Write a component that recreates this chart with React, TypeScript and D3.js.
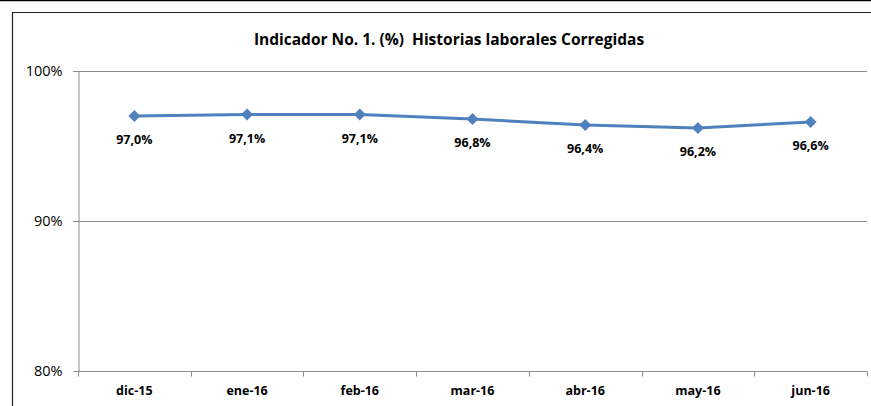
import { useEffect, useRef } from "react";
import * as d3 from "d3";

const months = ["dic-15", "ene-16", "feb-16", "mar-16", "abr-16", "may-16", "jun-16"];
const values = [97.0, 97.1, 97.1, 96.8, 96.4, 96.2, 96.6];
const yTicks = [80, 90, 100];

export default function App() {
  const ref = useRef<SVGSVGElement>(null);

  useEffect(() => {
    const width = 871,
      height = 406,
      margin = { top: 71, right: 4, bottom: 35, left: 78 };

    const svg = d3.select(ref.current);
    svg.selectAll("*").remove();
    svg.attr("width", width).attr("height", height);

    const font = "Open Sans, Liberation Sans, sans-serif";

    // outer frame
    svg.append("line")
      .attr("x1", 0).attr("x2", width).attr("y1", 0.5).attr("y2", 0.5)
      .attr("stroke", "#000").attr("stroke-width", 1.5);
    svg.append("path")
      .attr("d", `M12.5,${height} V12.5 H${width}`)
      .attr("fill", "none").attr("stroke", "#222").attr("stroke-width", 1.2);

    // title
    svg.append("text")
      .attr("x", 449).attr("y", 45)
      .attr("text-anchor", "middle")
      .style("font-family", font)
      .style("font-size", "15.5px")
      .style("font-weight", "bold")
      .style("white-space", "pre")
      .style("fill", "#000")
      .text("Indicador No. 1. (%)  Historias laborales Corregidas");

    const x = d3.scaleBand()
      .domain(months)
      .range([margin.left, width - margin.right]);
    const y = d3.scaleLinear()
      .domain([80, 100])
      .range([height - margin.bottom, margin.top]);

    // gridlines
    svg.append("g")
      .selectAll("line")
      .data(yTicks.slice(1))
      .enter()
      .append("line")
      .attr("x1", margin.left - 5)
      .attr("x2", width - margin.right)
      .attr("y1", (d) => Math.round(y(d)) + 0.5)
      .attr("y2", (d) => Math.round(y(d)) + 0.5)
      .attr("stroke", "#8c8c8c");

    // y axis
    const yAxis = svg.append("g")
      .attr("transform", `translate(${margin.left + 0.5},0)`)
      .call(d3.axisLeft(y).tickValues(yTicks).tickSize(5).tickPadding(11).tickFormat((d) => `${d}%`));
    yAxis.select(".domain").attr("stroke", "#8c8c8c");
    yAxis.selectAll(".tick line").attr("stroke", "#8c8c8c");
    yAxis.selectAll("text")
      .style("font-family", font)
      .style("font-size", "14.5px")
      .style("fill", "#000");

    // x axis
    const y0 = Math.round(y(80)) + 0.5;
    const xa = svg.append("g");
    xa.append("line")
      .attr("x1", margin.left).attr("x2", width - margin.right)
      .attr("y1", y0).attr("y2", y0)
      .attr("stroke", "#8c8c8c");
    xa.selectAll("line.tk")
      .data([...months.map((m) => x(m)!), width - margin.right])
      .enter()
      .append("line")
      .attr("class", "tk")
      .attr("x1", (d) => Math.round(d) + 0.5)
      .attr("x2", (d) => Math.round(d) + 0.5)
      .attr("y1", y0)
      .attr("y2", y0 + 5)
      .attr("stroke", "#8c8c8c");
    xa.selectAll("text")
      .data(months)
      .enter()
      .append("text")
      .attr("x", (d) => x(d)! + x.bandwidth() / 2)
      .attr("y", y0 + 23)
      .attr("text-anchor", "middle")
      .style("font-family", font)
      .style("font-size", "12.5px")
      .style("font-weight", "bold")
      .style("fill", "#000")
      .text((d) => d);

    const cx = (i: number) => x(months[i])! + x.bandwidth() / 2;

    const line = d3.line<number>()
      .x((_, i) => cx(i))
      .y((d) => y(d));

    svg.append("path")
      .datum(values)
      .attr("fill", "none")
      .attr("stroke", "#4f81bd")
      .attr("stroke-width", 3)
      .attr("d", line);

    svg.append("g")
      .selectAll("path")
      .data(values)
      .enter()
      .append("path")
      .attr("d", d3.symbol(d3.symbolDiamond2, 90)())
      .attr("transform", (d, i) => `translate(${cx(i)},${y(d)})`)
      .attr("fill", "#4f81bd");

    // data labels
    svg.append("g")
      .selectAll("text")
      .data(values)
      .enter()
      .append("text")
      .attr("x", (_, i) => cx(i))
      .attr("y", (d) => y(d) + 28)
      .attr("text-anchor", "middle")
      .style("font-family", font)
      .style("font-size", "12.5px")
      .style("font-weight", "bold")
      .style("fill", "#000")
      .text((d) => d.toFixed(1).replace(".", ",") + "%");
  }, []);

  return <svg ref={ref} style={{ position: "absolute", left: 0, top: 0 }} />;
}
